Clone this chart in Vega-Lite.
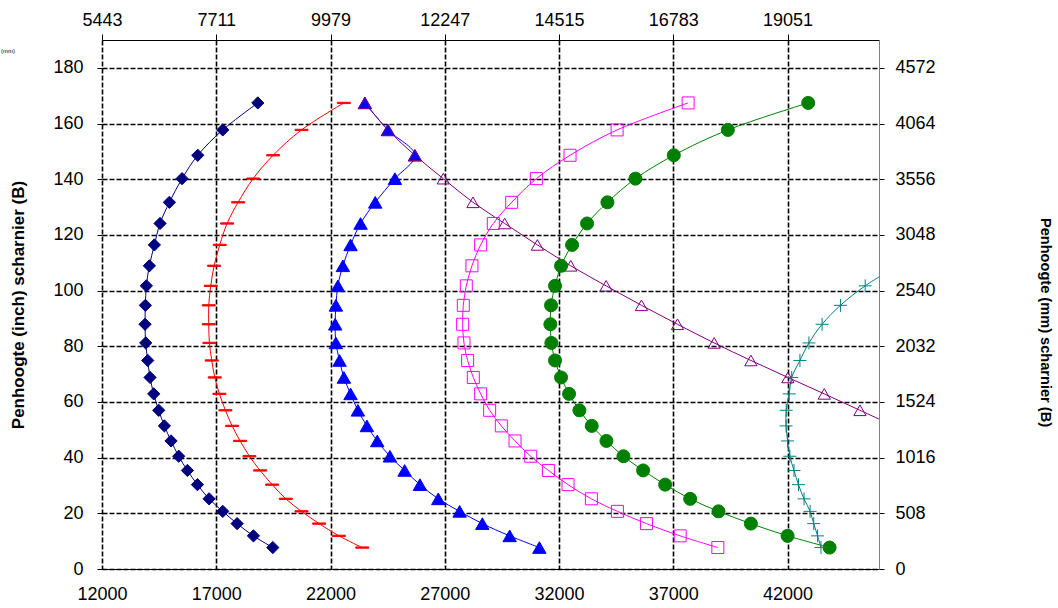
{
"$schema": "https://vega.github.io/schema/vega-lite/v6.json",
"width": 777, "height": 529,
"autosize": {"type": "none"},
"padding": {"left": 102, "top": 40, "right": 179, "bottom": 39},
"background": "white",
"title": {"text": "(mm)", "fontSize": 6, "fontWeight": "normal", "color": "#000", "anchor": "start", "frame": "group", "dx": -101, "dy": 47, "font": "Liberation Sans"},
"config": {"view": {"stroke": null}, "font": "Liberation Sans",
  "axis": {"labelFont": "Liberation Sans", "labelFontSize": 18, "labelColor": "#000", "labelFlush": false, "labelOverlap": false, "titleColor": "#000", "titleFont": "Liberation Sans", "titleFontWeight": "bold"}},
"datasets": {"pts": [
{"s":"S1","i":0,"x":18817,"y":167.4},{"s":"S1","i":1,"x":17284,"y":157.7},{"s":"S1","i":2,"x":16190,"y":148.6},{"s":"S1","i":3,"x":15503,"y":140.2},{"s":"S1","i":4,"x":14949,"y":131.7},{"s":"S1","i":5,"x":14540,"y":124.1},{"s":"S1","i":6,"x":14292,"y":116.4},{"s":"S1","i":7,"x":14073,"y":108.9},{"s":"S1","i":8,"x":13941,"y":101.7},{"s":"S1","i":9,"x":13898,"y":94.7},{"s":"S1","i":10,"x":13883,"y":87.9},{"s":"S1","i":11,"x":13912,"y":81.2},{"s":"S1","i":12,"x":14000,"y":74.9},{"s":"S1","i":13,"x":14102,"y":68.8},{"s":"S1","i":14,"x":14263,"y":62.9},{"s":"S1","i":15,"x":14482,"y":57.0},{"s":"S1","i":16,"x":14730,"y":51.4},{"s":"S1","i":17,"x":15022,"y":46.0},{"s":"S1","i":18,"x":15357,"y":40.5},{"s":"S1","i":19,"x":15737,"y":35.4},{"s":"S1","i":20,"x":16175,"y":30.3},{"s":"S1","i":21,"x":16686,"y":25.2},{"s":"S1","i":22,"x":17284,"y":20.7},{"s":"S1","i":23,"x":17912,"y":16.3},{"s":"S1","i":24,"x":18627,"y":11.9},{"s":"S1","i":25,"x":19474,"y":7.7},
{"s":"S2","i":0,"x":22583,"y":167.4},{"s":"S2","i":1,"x":20730,"y":157.7},{"s":"S2","i":2,"x":19489,"y":148.6},{"s":"S2","i":3,"x":18613,"y":140.2},{"s":"S2","i":4,"x":17956,"y":131.7},{"s":"S2","i":5,"x":17474,"y":124.1},{"s":"S2","i":6,"x":17153,"y":116.4},{"s":"S2","i":7,"x":16905,"y":108.9},{"s":"S2","i":8,"x":16759,"y":101.7},{"s":"S2","i":9,"x":16671,"y":94.7},{"s":"S2","i":10,"x":16671,"y":87.9},{"s":"S2","i":11,"x":16700,"y":81.2},{"s":"S2","i":12,"x":16803,"y":74.9},{"s":"S2","i":13,"x":16934,"y":68.8},{"s":"S2","i":14,"x":17138,"y":62.9},{"s":"S2","i":15,"x":17401,"y":57.0},{"s":"S2","i":16,"x":17693,"y":51.4},{"s":"S2","i":17,"x":18044,"y":46.0},{"s":"S2","i":18,"x":18452,"y":40.5},{"s":"S2","i":19,"x":18919,"y":35.4},{"s":"S2","i":20,"x":19445,"y":30.3},{"s":"S2","i":21,"x":20043,"y":25.2},{"s":"S2","i":22,"x":20730,"y":20.7},{"s":"S2","i":23,"x":21503,"y":16.3},{"s":"S2","i":24,"x":22365,"y":11.9},{"s":"S2","i":25,"x":23386,"y":7.7},
{"s":"S3","i":0,"x":23503,"y":167.4},{"s":"S3","i":1,"x":24511,"y":157.7},{"s":"S3","i":2,"x":25693,"y":148.6},{"s":"S3","i":3,"x":24817,"y":140.2},{"s":"S3","i":4,"x":23956,"y":131.7},{"s":"S3","i":5,"x":23314,"y":124.1},{"s":"S3","i":6,"x":22876,"y":116.4},{"s":"S3","i":7,"x":22540,"y":108.9},{"s":"S3","i":8,"x":22321,"y":101.7},{"s":"S3","i":9,"x":22234,"y":94.7},{"s":"S3","i":10,"x":22204,"y":87.9},{"s":"S3","i":11,"x":22234,"y":81.2},{"s":"S3","i":12,"x":22394,"y":74.9},{"s":"S3","i":13,"x":22584,"y":68.8},{"s":"S3","i":14,"x":22876,"y":62.9},{"s":"S3","i":15,"x":23197,"y":57.0},{"s":"S3","i":16,"x":23591,"y":51.4},{"s":"S3","i":17,"x":24044,"y":46.0},{"s":"S3","i":18,"x":24598,"y":40.5},{"s":"S3","i":19,"x":25241,"y":35.4},{"s":"S3","i":20,"x":25912,"y":30.3},{"s":"S3","i":21,"x":26715,"y":25.2},{"s":"S3","i":22,"x":27649,"y":20.7},{"s":"S3","i":23,"x":28642,"y":16.3},{"s":"S3","i":24,"x":29839,"y":11.9},{"s":"S3","i":25,"x":31138,"y":7.7},
{"s":"S4","i":0,"x":23503,"y":167.4},{"s":"S4","i":1,"x":24511,"y":157.7},{"s":"S4","i":2,"x":25693,"y":148.6},{"s":"S4","i":3,"x":26934,"y":140.2},{"s":"S4","i":4,"x":28233,"y":131.7},{"s":"S4","i":5,"x":29620,"y":124.1},{"s":"S4","i":6,"x":31051,"y":116.4},{"s":"S4","i":7,"x":32511,"y":108.9},{"s":"S4","i":8,"x":34058,"y":101.7},{"s":"S4","i":9,"x":35605,"y":94.7},{"s":"S4","i":10,"x":37182,"y":87.9},{"s":"S4","i":11,"x":38788,"y":81.2},{"s":"S4","i":12,"x":40394,"y":74.9},{"s":"S4","i":13,"x":42014,"y":68.8},{"s":"S4","i":14,"x":43605,"y":62.9},{"s":"S4","i":15,"x":45167,"y":57.0},{"s":"S4","i":16,"x":46650,"y":51.4},
{"s":"S5","i":0,"x":37649,"y":167.4},{"s":"S5","i":1,"x":34540,"y":157.7},{"s":"S5","i":2,"x":32481,"y":148.6},{"s":"S5","i":3,"x":31007,"y":140.2},{"s":"S5","i":4,"x":29927,"y":131.7},{"s":"S5","i":5,"x":29124,"y":124.1},{"s":"S5","i":6,"x":28569,"y":116.4},{"s":"S5","i":7,"x":28189,"y":108.9},{"s":"S5","i":8,"x":27941,"y":101.7},{"s":"S5","i":9,"x":27810,"y":94.7},{"s":"S5","i":10,"x":27781,"y":87.9},{"s":"S5","i":11,"x":27839,"y":81.2},{"s":"S5","i":12,"x":28000,"y":74.9},{"s":"S5","i":13,"x":28248,"y":68.8},{"s":"S5","i":14,"x":28569,"y":62.9},{"s":"S5","i":15,"x":28963,"y":57.0},{"s":"S5","i":16,"x":29474,"y":51.4},{"s":"S5","i":17,"x":30073,"y":46.0},{"s":"S5","i":18,"x":30759,"y":40.5},{"s":"S5","i":19,"x":31532,"y":35.4},{"s":"S5","i":20,"x":32393,"y":30.3},{"s":"S5","i":21,"x":33415,"y":25.2},{"s":"S5","i":22,"x":34554,"y":20.7},{"s":"S5","i":23,"x":35824,"y":16.3},{"s":"S5","i":24,"x":37299,"y":11.9},{"s":"S5","i":25,"x":38948,"y":7.7},
{"s":"S6","i":0,"x":42904,"y":167.4},{"s":"S6","i":1,"x":39386,"y":157.7},{"s":"S6","i":2,"x":37021,"y":148.6},{"s":"S6","i":3,"x":35343,"y":140.2},{"s":"S6","i":4,"x":34116,"y":131.7},{"s":"S6","i":5,"x":33226,"y":124.1},{"s":"S6","i":6,"x":32569,"y":116.4},{"s":"S6","i":7,"x":32087,"y":108.9},{"s":"S6","i":8,"x":31824,"y":101.7},{"s":"S6","i":9,"x":31649,"y":94.7},{"s":"S6","i":10,"x":31620,"y":87.9},{"s":"S6","i":11,"x":31664,"y":81.2},{"s":"S6","i":12,"x":31824,"y":74.9},{"s":"S6","i":13,"x":32087,"y":68.8},{"s":"S6","i":14,"x":32438,"y":62.9},{"s":"S6","i":15,"x":32890,"y":57.0},{"s":"S6","i":16,"x":33430,"y":51.4},{"s":"S6","i":17,"x":34073,"y":46.0},{"s":"S6","i":18,"x":34817,"y":40.5},{"s":"S6","i":19,"x":35678,"y":35.4},{"s":"S6","i":20,"x":36642,"y":30.3},{"s":"S6","i":21,"x":37737,"y":25.2},{"s":"S6","i":22,"x":38977,"y":20.7},{"s":"S6","i":23,"x":40394,"y":16.3},{"s":"S6","i":24,"x":42000,"y":11.9},{"s":"S6","i":25,"x":43839,"y":7.7},
{"s":"S7","i":7,"x":46800,"y":108.9},{"s":"S7","i":8,"x":45395,"y":101.7},{"s":"S7","i":9,"x":44313,"y":94.7},{"s":"S7","i":10,"x":43510,"y":87.9},{"s":"S7","i":11,"x":42934,"y":81.2},{"s":"S7","i":12,"x":42540,"y":74.9},{"s":"S7","i":13,"x":42180,"y":68.8},{"s":"S7","i":14,"x":42070,"y":62.9},{"s":"S7","i":15,"x":41940,"y":57.0},{"s":"S7","i":16,"x":41935,"y":51.4},{"s":"S7","i":17,"x":42000,"y":46.0},{"s":"S7","i":18,"x":42100,"y":40.5},{"s":"S7","i":19,"x":42280,"y":35.4},{"s":"S7","i":20,"x":42475,"y":30.3},{"s":"S7","i":21,"x":42720,"y":25.2},{"s":"S7","i":22,"x":42985,"y":20.7},{"s":"S7","i":23,"x":43145,"y":16.3},{"s":"S7","i":24,"x":43313,"y":11.9},{"s":"S7","i":25,"x":43460,"y":7.7}
]},
"data": {"name": "pts"},
"layer": [
 {"layer": [
   {"mark": {"type": "line", "interpolate": "catmull-rom", "strokeWidth": 1, "clip": true},
    "encoding": {
     "x": {"field": "x", "type": "quantitative", "scale": {"domain": [12000, 46000], "nice": false, "zero": false},
       "axis": {"orient": "bottom", "values": [12000,17000,22000,27000,32000,37000,42000], "format": "d", "grid": true, "gridColor": "#000", "gridDash": [5,2], "gridWidth": 1.6, "gridOpacity": 1, "domainColor": "#000", "domainWidth": 1, "ticks": false, "labelPadding": 16, "title": null}},
     "y": {"field": "y", "type": "quantitative", "scale": {"domain": [0, 190], "nice": false},
       "axis": {"orient": "left", "values": [0,20,40,60,80,100,120,140,160,180], "grid": true, "gridColor": "#000", "gridDash": [5,2], "gridWidth": 1.6, "gridOpacity": 1, "domain": false, "tickSize": 5, "tickColor": "#000", "labelPadding": 14, "title": "Penhoogte (inch) scharnier (B)", "titleFontSize": 17, "titlePadding": 25}},
     "color": {"field": "s", "type": "nominal", "legend": null, "scale": {"domain": ["S1","S2","S3","S4","S5","S6","S7"], "range": ["#000080","#FF0000","#0000FF","#800080","#FF00FF","#008000","#008080"]}},
     "order": {"field": "i", "type": "quantitative"}
    }},
   {"mark": {"type": "point", "filled": true, "strokeWidth": 1, "opacity": 1, "clip": true},
    "encoding": {
     "x": {"field": "x", "type": "quantitative"},
     "y": {"field": "y", "type": "quantitative"},
     "shape": {"field": "s", "type": "nominal", "legend": null, "scale": {"domain": ["S1","S2","S3","S4","S5","S6","S7"], "range": ["diamond","M-1,-0.1L1,-0.1L1,0.1L-1,0.1Z","triangle-up","triangle-up","square","circle","M-1,0L1,0M0,-1L0,1"]}},
     "fill": {"field": "s", "type": "nominal", "legend": null, "scale": {"domain": ["S1","S2","S3","S4","S5","S6","S7"], "range": ["#000080","#FF0000","#0000FF","transparent","transparent","#008000","transparent"]}},
     "stroke": {"field": "s", "type": "nominal", "legend": null, "scale": {"domain": ["S1","S2","S3","S4","S5","S6","S7"], "range": ["#000080","#FF0000","#0000FF","#800080","#FF00FF","#008000","#008080"]}},
     "size": {"field": "s", "type": "nominal", "legend": null, "scale": {"type": "ordinal", "domain": ["S1","S2","S3","S4","S5","S6","S7"], "range": [150,169,180,150,144,169,169]}}
    }}
 ]},
 {"mark": {"type": "point", "opacity": 0},
  "encoding": {
   "x": {"field": "x", "type": "quantitative", "scale": {"domain": [12000, 46000], "nice": false, "zero": false},
     "axis": {"orient": "top", "values": [12000,17000,22000,27000,32000,37000,42000], "labelExpr": "format(round(datum.value*0.45359237), 'd')", "grid": false, "domainColor": "#000", "tickColor": "#000", "tickSize": 6, "labelPadding": 5, "title": null}},
   "y": {"field": "y", "type": "quantitative", "scale": {"domain": [0, 190], "nice": false},
     "axis": {"orient": "right", "values": [0,20,40,60,80,100,120,140,160,180], "labelExpr": "format(round(datum.value*25.4), 'd')", "grid": false, "domainColor": "#808080", "tickColor": "#000", "tickSize": 5, "labelPadding": 11, "title": "Penhoogte (mm) scharnier (B)", "titleFontSize": 14.6, "titlePadding": 102, "titleY": 282}}
  }}
],
"resolve": {"scale": {"x": "independent", "y": "independent"}}
}
